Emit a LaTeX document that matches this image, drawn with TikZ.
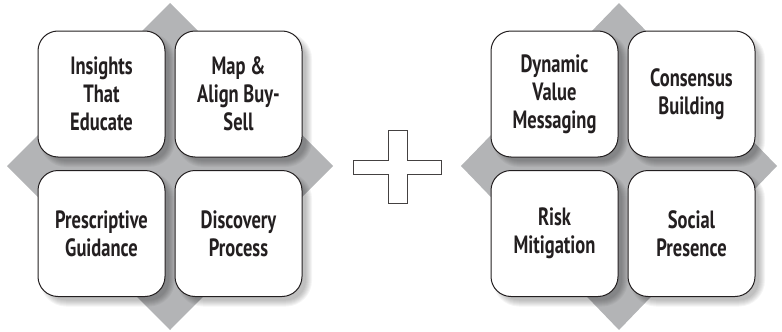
\documentclass[tikz,border=0pt]{standalone}
\usepackage{fontspec}
\newfontfamily\cardfont[FakeStretch=0.74]{PT Sans}
\usetikzlibrary{calc}
\definecolor{diamondgray}{RGB}{179,180,182}
\definecolor{inkdark}{RGB}{35,31,32}
\tikzset{
  card/.style={draw=inkdark, line width=1pt, fill=white, rounded corners=20pt,
    minimum width=127pt, minimum height=126pt, inner sep=0pt,
    align=center, text=inkdark,
    font=\cardfont\bfseries\fontsize{25}{28}\selectfont},
  backdrop/.style={fill=diamondgray},
  plusline/.style={draw=inkdark!85, line width=0.9pt, fill=white, line join=miter}
}
% soft shadow under a card centred at #1
\newcommand\cardshade[1]{%
  \foreach \r in {0,1,...,6}{%
    \fill[black, opacity=0.04, rounded corners=20pt+\r pt]
      ($(#1)+(-59.5+4-\r,-59+4-\r)$) rectangle ($(#1)+(63.5+4+\r,63+4+\r)$);
  }%
}
\begin{document}
\begin{tikzpicture}[x=1pt, y=-1pt]
  \useasboundingbox (0,0) rectangle (782,332);

  % left group
  \fill[backdrop] (170,3) -- (333,166) -- (170,330) -- (7,166) -- cycle;
  \coordinate (l1) at (101.5,94);
  \coordinate (l2) at (238.5,94);
  \coordinate (l3) at (101.5,233.5);
  \coordinate (l4) at (238.5,233.5);
  \cardshade{l1}\cardshade{l2}\cardshade{l3}\cardshade{l4}
  \node[card] (insights) at (l1) {Insights\\That\\Educate};
  \node[card] (mapalign) at (l2) {Map \&\\Align Buy-\\Sell};
  \node[card] (prescriptive) at (l3) {Prescriptive\\Guidance};
  \node[card] (discovery) at (l4) {Discovery\\Process};

  % plus sign
  \draw[plusline] (388,130) -- (407,130) -- (407,160) -- (441,160) -- (441,174)
    -- (407,174) -- (407,203) -- (388,203) -- (388,174) -- (353,174)
    -- (353,160) -- (388,160) -- cycle;

  % right group
  \fill[backdrop] (619,3) -- (777,166) -- (619,330) -- (461,166) -- cycle;
  \coordinate (r1) at (554.5,94);
  \coordinate (r2) at (691.5,94);
  \coordinate (r3) at (554.5,233.5);
  \coordinate (r4) at (691.5,233.5);
  \cardshade{r1}\cardshade{r2}\cardshade{r3}\cardshade{r4}
  \node[card] (dynamic) at (r1) {Dynamic\\Value\\Messaging};
  \node[card] (consensus) at (r2) {Consensus\\Building};
  \node[card] (risk) at (r3) {Risk\\Mitigation};
  \node[card] (social) at (r4) {Social\\Presence};
\end{tikzpicture}
\end{document}
